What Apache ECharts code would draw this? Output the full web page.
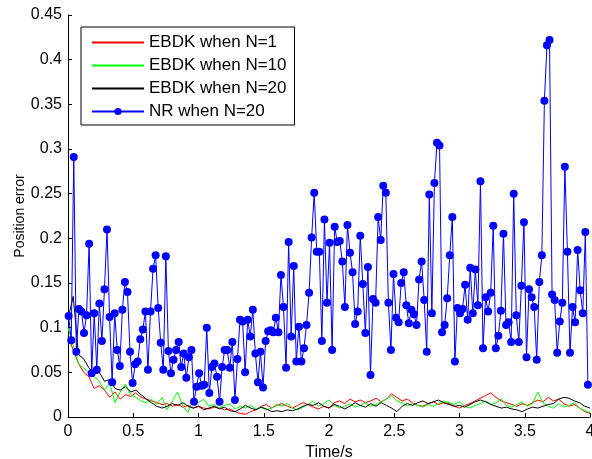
<!DOCTYPE html>
<html>
<head>
<meta charset="utf-8">
<script src="https://cdn.jsdelivr.net/npm/echarts@6/dist/echarts.min.js"></script>
<style>
  html, body { margin: 0; padding: 0; background: #fff; }
  #chart { width: 592px; height: 459px; }
</style>
</head>
<body>
<div id="chart"></div>
<script>
// legend names
const seriesNames = ["EBDK when N=1", "EBDK when N=10", "EBDK when N=20", "NR when N=20"];

// EBDK curves, sampled every 0.04 s from t = 0
const EBDK_DT = 0.04;
const ebdkN1 = [
  0.09, 0.075, 0.06, 0.05, 0.045, 0.032, 0.035, 0.03, 0.022, 0.028,
  0.02, 0.025, 0.023, 0.027, 0.022, 0.02, 0.018, 0.016, 0.014, 0.015,
  0.012, 0.014, 0.011, 0.013, 0.01, 0.012, 0.01, 0.009, 0.011, 0.01,
  0.008, 0.009, 0.006, 0.004, 0.003, 0.006, 0.008, 0.012, 0.014, 0.01,
  0.013, 0.015, 0.012, 0.01, 0.013, 0.016, 0.014, 0.011, 0.009, 0.012,
  0.01, 0.016, 0.018, 0.015, 0.02, 0.017, 0.019, 0.016, 0.018, 0.021,
  0.017, 0.02, 0.026, 0.022, 0.018, 0.02, 0.016, 0.013, 0.012, 0.015,
  0.017, 0.014, 0.016, 0.015, 0.012, 0.01, 0.013, 0.015, 0.018, 0.021,
  0.024, 0.027, 0.022, 0.018, 0.016, 0.014, 0.012, 0.015, 0.013, 0.016,
  0.019, 0.017, 0.022, 0.018, 0.02, 0.015, 0.012, 0.014, 0.01, 0.006,
  0.004
];
const ebdkN10 = [
  0.1, 0.08, 0.06, 0.055, 0.05, 0.045, 0.04, 0.03, 0.038, 0.016,
  0.028, 0.037, 0.025, 0.022, 0.018, 0.016, 0.02, 0.014, 0.022, 0.008,
  0.018, 0.028, 0.012, 0.005, 0.022, 0.016, 0.02, 0.012, 0.014, 0.01,
  0.013, 0.015, 0.009, 0.012, 0.01, 0.013, 0.009, 0.011, 0.008, 0.01,
  0.014, 0.012, 0.015, 0.01, 0.008, 0.011, 0.014, 0.018, 0.012, 0.015,
  0.019, 0.013, 0.01, 0.012, 0.015, 0.011, 0.013, 0.016, 0.012, 0.014,
  0.017, 0.02, 0.024, 0.018, 0.016, 0.012, 0.015, 0.013, 0.011, 0.014,
  0.012, 0.015, 0.018, 0.016, 0.014, 0.017, 0.012, 0.01, 0.013, 0.015,
  0.018, 0.014, 0.016, 0.02, 0.013, 0.011, 0.014, 0.017, 0.012, 0.015,
  0.028, 0.016, 0.012, 0.01, 0.015, 0.011, 0.013, 0.016, 0.01, 0.007,
  0.005
];
const ebdkN20 = [
  0.11, 0.135, 0.07, 0.065, 0.055, 0.048, 0.05, 0.04, 0.042, 0.032,
  0.03, 0.034, 0.028, 0.03, 0.025, 0.02, 0.016, 0.012, 0.01, 0.012,
  0.015, 0.013, 0.016, 0.012, 0.01, 0.012, 0.008, 0.01, 0.012, 0.009,
  0.011, 0.007, 0.006, 0.009, 0.013, 0.01, 0.008, 0.011, 0.009, 0.006,
  0.007, 0.006, 0.008, 0.007, 0.009, 0.012, 0.014, 0.013, 0.016, 0.012,
  0.01, 0.014, 0.012, 0.009, 0.012, 0.016, 0.013, 0.011, 0.015, 0.012,
  0.016, 0.013, 0.01, 0.006, 0.012, 0.015, 0.013, 0.016, 0.018, 0.015,
  0.017, 0.019, 0.016, 0.014, 0.012, 0.013, 0.011, 0.014, 0.017, 0.019,
  0.017, 0.014, 0.012, 0.01, 0.011, 0.009, 0.008, 0.006, 0.009, 0.011,
  0.01, 0.012, 0.014, 0.015, 0.02, 0.022, 0.021, 0.018, 0.016, 0.012,
  0.01
];

// NR estimate, sampled from t = NR_T0 every NR_DT
const NR_T0 = 0.005;
const NR_DT = 0.0196;
const nrN20 = [
  0.113, 0.086, 0.291, 0.073, 0.121, 0.118, 0.094, 0.114, 0.194, 0.049,
  0.116, 0.053, 0.127, 0.085, 0.143, 0.21, 0.112, 0.039, 0.116, 0.075,
  0.057, 0.12, 0.151, 0.14, 0.073, 0.038, 0.059, 0.062, 0.087, 0.098,
  0.118, 0.053, 0.118, 0.166,
  0.181, 0.122, 0.083, 0.053, 0.18, 0.074, 0.049, 0.064, 0.075, 0.084,
  0.056, 0.071, 0.044, 0.067, 0.075, 0.017, 0.034, 0.049, 0.035, 0.036,
  0.1, 0.027, 0.056, 0.06, 0.045, 0.017, 0.056, 0.075, 0.075, 0.055,
  0.084, 0.019, 0.065, 0.109, 0.107,
  0.05, 0.109, 0.09, 0.12, 0.071, 0.039, 0.073, 0.033, 0.085, 0.096,
  0.097, 0.095, 0.111, 0.095, 0.159, 0.123, 0.055, 0.196, 0.09, 0.169,
  0.062, 0.101, 0.062, 0.077, 0.103, 0.139, 0.201, 0.251, 0.185, 0.185,
  0.085, 0.221, 0.128,
  0.195, 0.075, 0.213, 0.196, 0.197, 0.174, 0.123, 0.215, 0.184, 0.162,
  0.104, 0.118, 0.203, 0.149, 0.094, 0.168, 0.047, 0.132, 0.128, 0.224,
  0.198, 0.259, 0.251, 0.128, 0.075, 0.16, 0.111, 0.106, 0.15, 0.162,
  0.125, 0.105, 0.12,
  0.115, 0.103, 0.154, 0.174, 0.131, 0.073, 0.249, 0.116, 0.262, 0.307,
  0.304, 0.095, 0.103, 0.133, 0.181, 0.224, 0.062, 0.122, 0.116, 0.121,
  0.148, 0.109, 0.167, 0.116, 0.165, 0.125, 0.264, 0.077, 0.134, 0.118,
  0.139, 0.214, 0.077, 0.091, 0.119,
  0.205, 0.103, 0.106, 0.084, 0.25, 0.114, 0.084, 0.147, 0.218, 0.067,
  0.143, 0.134, 0.123, 0.064, 0.151, 0.181, 0.354, 0.416, 0.422, 0.137,
  0.131, 0.072, 0.107, 0.128, 0.28, 0.185, 0.072, 0.123, 0.106, 0.187,
  0.142, 0.116, 0.207, 0.036
];

// axis ticks
const xTicks = { min: 0, max: 4, step: 0.5 };
const yTicks = { min: 0, max: 0.45, step: 0.05 };

function toPoints(values, t0, dt) {
  return values.map((v, i) => [+(t0 + i * dt).toFixed(4), v]);
}

const FONT = "'Liberation Sans', Arial, sans-serif";

const axisCommon = {
  axisLine: { show: true, onZero: false, lineStyle: { color: "#000", width: 1 } },
  axisTick: { show: true, inside: true, length: 4, lineStyle: { color: "#000" } },
  splitLine: { show: false },
};

function lineSeries(name, color, data) {
  return {
    name: name,
    type: "line",
    data: data,
    symbol: "none",
    lineStyle: { color: color, width: 1 },
    itemStyle: { color: color },
  };
}

// legend: plain line for EBDK, line with dot for NR
const legendData = seriesNames.map((name, i) =>
  i < 3 ? { name: name, itemStyle: { opacity: 0 } } : { name: name }
);

const chart = echarts.init(document.getElementById("chart"), null, { renderer: "canvas" });
chart.setOption({
  animation: false,
  backgroundColor: "#fff",
  grid: { left: 68, right: 2, top: 15, bottom: 42, containLabel: false, outerBoundsMode: "none" },
  legend: {
    orient: "vertical",
    left: 81,
    top: 27,
    data: legendData,
    itemWidth: 52,
    itemHeight: 9,
    itemGap: 6,
    padding: [7, 8, 5, 10],
    backgroundColor: "#fff",
    borderColor: "#000",
    borderWidth: 1,
    borderRadius: 0,
    textStyle: { fontFamily: FONT, fontSize: 17, lineHeight: 17, color: "#000" },
  },
  xAxis: Object.assign({
    type: "value",
    min: xTicks.min,
    max: xTicks.max,
    interval: xTicks.step,
    name: "Time/s",
    nameLocation: "middle",
    nameGap: 25,
    nameTextStyle: { fontFamily: FONT, fontSize: 16, color: "#000" },
    axisLabel: { fontFamily: FONT, fontSize: 16, color: "#000", margin: 7 },
  }, axisCommon),
  yAxis: Object.assign({
    type: "value",
    min: yTicks.min,
    max: yTicks.max,
    interval: yTicks.step,
    name: "Position error",
    nameLocation: "middle",
    nameGap: 41,
    nameMoveOverlap: false,
    nameRotate: 90,
    nameTextStyle: { fontFamily: FONT, fontSize: 14, color: "#000" },
    axisLabel: { fontFamily: FONT, fontSize: 16, color: "#000", margin: 6 },
  }, axisCommon),
  series: [
    lineSeries(seriesNames[0], "#ff0000", toPoints(ebdkN1, 0, EBDK_DT)),
    lineSeries(seriesNames[1], "#00ff00", toPoints(ebdkN10, 0, EBDK_DT)),
    lineSeries(seriesNames[2], "#000000", toPoints(ebdkN20, 0, EBDK_DT)),
    {
      name: seriesNames[3],
      type: "line",
      data: toPoints(nrN20, NR_T0, NR_DT),
      symbol: "circle",
      symbolSize: 8,
      showAllSymbol: true,
      lineStyle: { color: "#0000ff", width: 1 },
      itemStyle: { color: "#0000ff" },
    },
  ],
});
</script>
</body>
</html>
